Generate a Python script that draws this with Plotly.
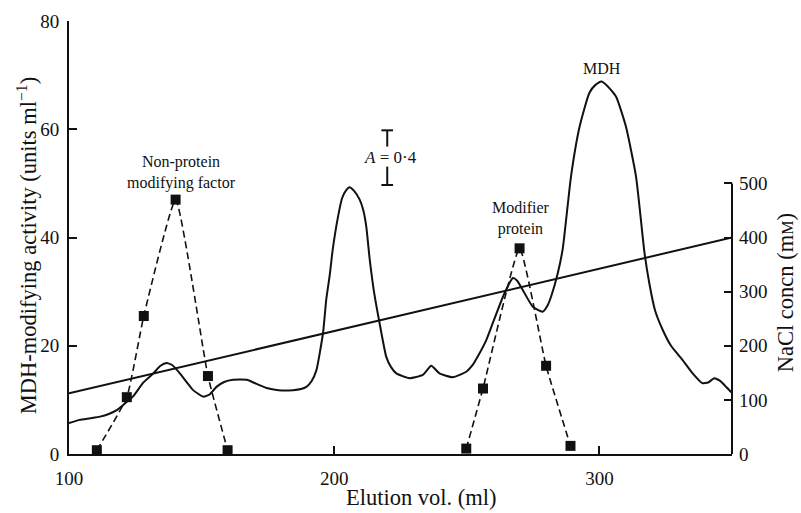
import plotly.graph_objects as go

# ---- data ----
elution_abs = [100, 104, 108, 111.7, 115, 118, 121, 124.1, 128, 131.8, 134.5, 136.8, 139, 141.8,
               144.5, 146.8, 150.6, 153, 155.6, 158.5, 161.9, 167, 170.5, 174.5, 179, 184.5, 187.5,
               189.5, 191.5, 193.3, 195.8, 197, 198.3, 199.5, 201.5, 203, 204.6, 205.8, 207.5, 209.6,
               211, 212.1, 213.4, 215, 217.1, 219.6, 221.5, 223.4, 228.4, 233.4, 236.6, 239.7, 244.7,
               249.8, 252.3, 254.8, 257.3, 259.8, 264.2, 267.4, 269, 271.1, 274.9, 278.6, 280.5, 281.8,
               284.3, 286.2, 289.3, 292.5, 296.2, 298.5, 300.7, 303, 306.3, 310, 313.8, 317, 318.8,
               321, 323.8, 327, 331.3, 335, 338.8, 341, 343.3, 345.5, 348, 350]
absorbance = [5.7, 6.3, 6.6, 6.9, 7.4, 8.1, 9.3, 10.6, 13.2, 14.9, 16.3, 16.8, 16.4, 14.9,
              13.2, 11.8, 10.6, 11.0, 12.4, 13.3, 13.7, 13.7, 13.0, 12.2, 11.8, 11.8, 12.0,
              12.4, 13.5, 15.5, 22.4, 28.5, 33.0, 38.0, 44.0, 47.3, 48.8, 49.3, 48.6, 47.0,
              45.0, 42.0, 35.9, 30.0, 24.2, 18.0, 16.0, 14.9, 14.0, 14.6, 16.3, 14.9, 14.2,
              15.2, 16.5, 18.6, 21.0, 24.2, 29.7, 32.5, 32.0, 30.3, 27.2, 26.3, 27.5, 29.1,
              33.4, 38.0, 51.3, 60.4, 66.7, 68.2, 68.8, 68.0, 66.0, 60.5, 51.3, 37.2, 31.6,
              26.5, 23.0, 20.0, 17.4, 15.0, 13.1, 13.2, 14.0, 13.5, 12.3, 11.3]

nacl_x = [100, 350]
nacl_mM = [112, 400]

factor_x = [110.5, 121.8, 128.2, 140.2, 152.4, 159.8]
factor_act = [0.7, 10.5, 25.5, 47.0, 14.4, 0.7]

modifier_x = [249.8, 256.1, 269.9, 279.9, 289.1]
modifier_act = [1.0, 12.1, 38.0, 16.3, 1.5]

x_ticks = [100, 200, 300]
left_ticks = [0, 20, 40, 60, 80]
right_ticks = [0, 100, 200, 300, 400, 500]

FONT = "Liberation Serif, Times New Roman, serif"
INK = "#111111"

fig = go.Figure()

fig.add_trace(go.Scatter(x=elution_abs, y=absorbance, mode="lines",
                         line=dict(color=INK, width=2, shape="spline", smoothing=0.5),
                         hoverinfo="skip", showlegend=False))
fig.add_trace(go.Scatter(x=nacl_x, y=nacl_mM, mode="lines", yaxis="y2",
                         line=dict(color=INK, width=2), hoverinfo="skip", showlegend=False))
for xs, ys in [(factor_x, factor_act), (modifier_x, modifier_act)]:
    fig.add_trace(go.Scatter(x=xs, y=ys, mode="lines+markers",
                             line=dict(color=INK, width=1.6, dash="7px,4px", shape="spline", smoothing=0.4),
                             marker=dict(symbol="square", size=10, color=INK),
                             hoverinfo="skip", showlegend=False))

axis_common = dict(showgrid=False, zeroline=False, ticks="inside", ticklen=8, tickwidth=2,
                   tickcolor=INK, tickfont=dict(family=FONT, size=19, color=INK))

fig.update_layout(
    width=801, height=513,
    margin=dict(l=69, r=69, t=21, b=59),
    paper_bgcolor="white", plot_bgcolor="white",
    font=dict(family=FONT, color=INK, size=16),
    xaxis=dict(range=[100, 350], tickvals=x_ticks, showline=True, linewidth=2, linecolor=INK,
               ticklabelstandoff=6, **axis_common),
    yaxis=dict(range=[0, 80], tickvals=left_ticks, showline=True, linewidth=2, linecolor=INK,
               ticklabelstandoff=4, **axis_common),
    yaxis2=dict(range=[0, 800], tickvals=right_ticks, overlaying="y", side="right", showline=False,
                ticklabelstandoff=6, **axis_common),
)

# right axis line only spans 0-500 mM
fig.add_shape(type="line", xref="paper", yref="y2", x0=1, x1=1, y0=0, y1=500,
              line=dict(color=INK, width=2))

# A = 0.4 scale bar
bar_x = 220
fig.add_shape(type="line", xref="x", yref="y", x0=bar_x, x1=bar_x, y0=56.8, y1=59.8, line=dict(color=INK, width=2))
fig.add_shape(type="line", xref="x", yref="y", x0=bar_x, x1=bar_x, y0=49.7, y1=53.1, line=dict(color=INK, width=2))
fig.add_shape(type="line", xref="x", yref="y", x0=bar_x - 2.2, x1=bar_x + 2.2, y0=59.8, y1=59.8, line=dict(color=INK, width=2))
fig.add_shape(type="line", xref="x", yref="y", x0=bar_x - 2.2, x1=bar_x + 2.2, y0=49.7, y1=49.7, line=dict(color=INK, width=2))
fig.add_annotation(x=221.3, y=54.8, xref="x", yref="y", text="<i>A</i> = 0·4", showarrow=False,
                   font=dict(family=FONT, size=17, color=INK))

# peak labels
fig.add_annotation(x=142.6, y=52.1, text="Non-protein<br>modifying factor", showarrow=False,
                   font=dict(family=FONT, size=16, color=INK))
fig.add_annotation(x=270.5, y=43.6, text="Modifier<br>protein", showarrow=False,
                   font=dict(family=FONT, size=16, color=INK))
fig.add_annotation(x=301, y=71.2, text="MDH", showarrow=False,
                   font=dict(family=FONT, size=16, color=INK))

# axis titles
fig.add_annotation(xref="paper", yref="paper", x=0.532, y=-0.1016, text="Elution vol. (ml)",
                   showarrow=False, xanchor="center", yanchor="middle",
                   font=dict(family=FONT, size=22.5, color=INK))
fig.add_annotation(xref="paper", yref="paper", x=-0.0633, y=0.48,
                   text="MDH-modifying activity (units ml<sup>−1</sup>)", textangle=-90,
                   showarrow=False, xanchor="center", yanchor="middle",
                   font=dict(family=FONT, size=22.5, color=INK))
fig.add_annotation(xref="paper", yref="paper", x=1.082, y=0.372,
                   text="NaCl concn (m<span style='font-size:16px'>M</span>)", textangle=-90,
                   showarrow=False, xanchor="center", yanchor="middle",
                   font=dict(family=FONT, size=22.5, color=INK))

fig.write_html("out.html")
